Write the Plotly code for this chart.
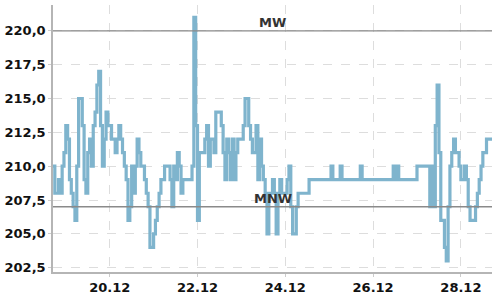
import plotly.graph_objects as go
import pandas as pd

start_time = "2023-12-18 17:00"
levels = [
    210, 208, 208, 209, 208, 210, 211, 213, 212, 209,
    208, 207, 206, 210, 215, 215, 213, 209, 208, 211,
    212, 210, 213, 214, 216, 217, 213, 210, 212, 214,
    213, 213, 212, 212, 211, 212, 213, 212, 211, 210,
    209, 206, 207, 210, 208, 210, 212, 211, 210, 210,
    209, 208, 207, 204, 204, 205, 206, 207, 208, 209,
    209, 210, 210, 210, 209, 207, 210, 209, 211, 210,
    208, 209, 209, 209, 209, 209, 210, 221, 213, 206,
    211, 211, 211, 212, 213, 210, 212, 212, 211, 214,
    214, 214, 213, 211, 209, 212, 211, 209, 212, 209,
    211, 212, 212, 212, 213, 215, 215, 213, 212, 211,
    211, 213, 209, 212, 210, 209, 208, 205, 208, 208,
    209, 208, 205, 208, 209, 208, 208, 208, 209, 210,
    207, 205, 205, 207, 208, 208, 208, 208, 208, 208,
    209, 209, 209, 209, 209, 209, 209, 209, 209, 209,
    209, 209, 210, 209, 209, 209, 209, 210, 209, 209,
    209, 209, 209, 209, 209, 209, 209, 209, 210, 209,
    209, 209, 209, 209, 209, 209, 209, 209, 209, 209,
    209, 209, 209, 209, 209, 209, 210, 209, 210, 209,
    209, 209, 209, 209, 209, 209, 209, 209, 209, 210,
    210, 210, 210, 210, 210, 210, 207, 210, 207, 213,
    216, 211, 206, 206, 204, 203, 207, 210, 211, 212,
    211, 211, 210, 209, 209, 210, 209, 207, 206, 206,
    206, 207, 208, 209, 210, 211, 211, 212, 212, 212,
    212,
]
times = pd.date_range(start_time, periods=len(levels), freq="h")

mw_value = 220.0
mnw_value = 207.0
mw_label = "MW"
mnw_label = "MNW"
y_ticks = [202.5, 205.0, 207.5, 210.0, 212.5, 215.0, 217.5, 220.0]

fig = go.Figure()
fig.add_trace(go.Scatter(
    x=times, y=levels, mode="lines",
    line=dict(color="#7fb4cd", width=3.2, shape="hv"),
    hoverinfo="skip", showlegend=False,
))

for val in (mw_value, mnw_value):
    fig.add_shape(type="line", xref="paper", x0=0, x1=1, yref="y", y0=val, y1=val,
                  line=dict(color="#8a8a8a", width=1.3), layer="above")

for val, txt in ((mw_value, mw_label), (mnw_value, mnw_label)):
    fig.add_annotation(xref="paper", x=0.5, yref="y", y=val, text=txt,
                       showarrow=False, yanchor="bottom", yshift=-1,
                       font=dict(family="DejaVu Sans", size=13, color="#333333", weight="bold"))

tick_font = dict(family="DejaVu Sans", size=13, color="#111111", weight="bold")

fig.update_layout(
    width=500, height=300,
    margin=dict(l=53, r=8, t=5, b=23),
    paper_bgcolor="white", plot_bgcolor="white",
    separators=",.",
    xaxis=dict(
        range=[times[0], times[-1]],
        tickformat="%d.%m", tick0="2023-12-20", dtick=2 * 86400000,
        showgrid=True, gridcolor="#dddddd", griddash="dash", gridwidth=1,
        showline=True, linecolor="#b5b5b5", linewidth=1.5,
        ticks="outside", ticklen=3, tickcolor="#cccccc",
        tickfont=tick_font, zeroline=False,
    ),
    yaxis=dict(
        range=[202.18, 221.91],
        tickvals=y_ticks, tickformat=".1f",
        showgrid=True, gridcolor="#dddddd", griddash="dash", gridwidth=1,
        showline=True, linecolor="#b5b5b5", linewidth=1.5,
        ticks="outside", ticklen=3, tickcolor="#cccccc",
        tickfont=tick_font, zeroline=False,
    ),
)

fig.write_html("out.html")
